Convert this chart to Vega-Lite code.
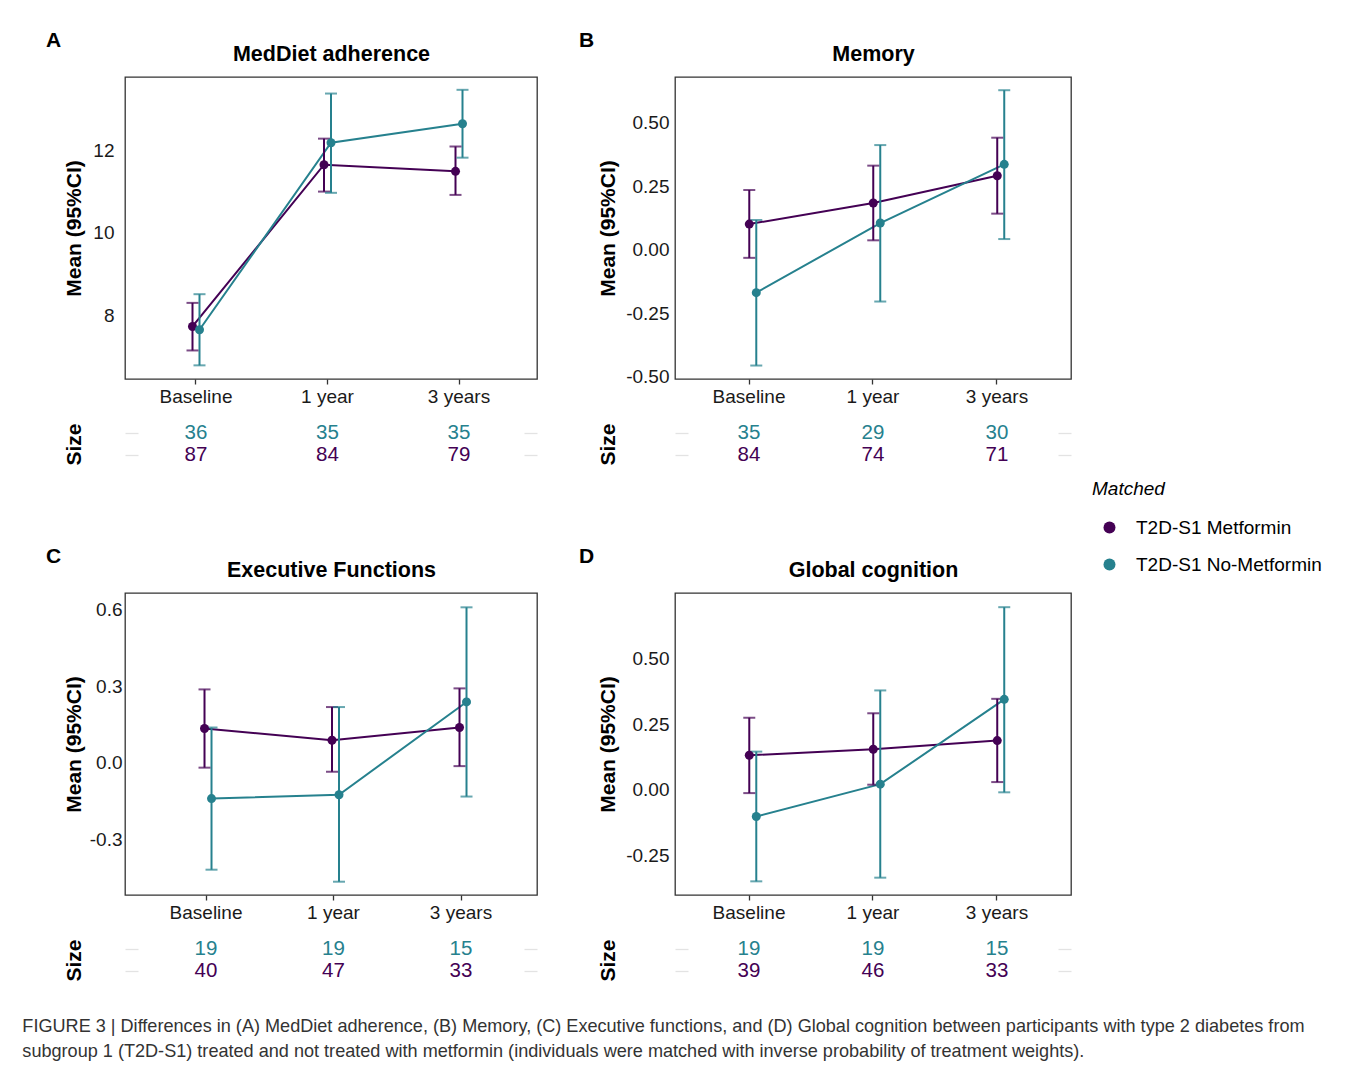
{
  "$schema": "https://vega.github.io/schema/vega-lite/v6.json",
  "background": "white",
  "autosize": {"type": "pad"},
  "padding": {"left": 22, "top": 29, "right": 0, "bottom": 0},
  "datasets": {
    "pts": [
      {"panel": "A", "time": "Baseline", "group": "T2D-S1 Metformin", "mean": 7.74, "lo": 7.16, "hi": 8.31},
      {"panel": "A", "time": "1 year", "group": "T2D-S1 Metformin", "mean": 11.65, "lo": 11.0, "hi": 12.28},
      {"panel": "A", "time": "3 years", "group": "T2D-S1 Metformin", "mean": 11.49, "lo": 10.92, "hi": 12.09},
      {"panel": "A", "time": "Baseline", "group": "T2D-S1 No-Metformin", "mean": 7.66, "lo": 6.8, "hi": 8.52},
      {"panel": "A", "time": "1 year", "group": "T2D-S1 No-Metformin", "mean": 12.18, "lo": 10.97, "hi": 13.37},
      {"panel": "A", "time": "3 years", "group": "T2D-S1 No-Metformin", "mean": 12.64, "lo": 11.82, "hi": 13.46},
      {"panel": "B", "time": "Baseline", "group": "T2D-S1 Metformin", "mean": 0.102, "lo": -0.031, "hi": 0.236},
      {"panel": "B", "time": "1 year", "group": "T2D-S1 Metformin", "mean": 0.185, "lo": 0.038, "hi": 0.332},
      {"panel": "B", "time": "3 years", "group": "T2D-S1 Metformin", "mean": 0.292, "lo": 0.143, "hi": 0.442},
      {"panel": "B", "time": "Baseline", "group": "T2D-S1 No-Metformin", "mean": -0.168, "lo": -0.455, "hi": 0.118},
      {"panel": "B", "time": "1 year", "group": "T2D-S1 No-Metformin", "mean": 0.106, "lo": -0.203, "hi": 0.413},
      {"panel": "B", "time": "3 years", "group": "T2D-S1 No-Metformin", "mean": 0.337, "lo": 0.043, "hi": 0.629},
      {"panel": "C", "time": "Baseline", "group": "T2D-S1 Metformin", "mean": 0.134, "lo": -0.019, "hi": 0.287},
      {"panel": "C", "time": "1 year", "group": "T2D-S1 Metformin", "mean": 0.088, "lo": -0.035, "hi": 0.218},
      {"panel": "C", "time": "3 years", "group": "T2D-S1 Metformin", "mean": 0.138, "lo": -0.013, "hi": 0.291},
      {"panel": "C", "time": "Baseline", "group": "T2D-S1 No-Metformin", "mean": -0.14, "lo": -0.418, "hi": 0.138},
      {"panel": "C", "time": "1 year", "group": "T2D-S1 No-Metformin", "mean": -0.125, "lo": -0.465, "hi": 0.218},
      {"panel": "C", "time": "3 years", "group": "T2D-S1 No-Metformin", "mean": 0.238, "lo": -0.132, "hi": 0.608},
      {"panel": "D", "time": "Baseline", "group": "T2D-S1 Metformin", "mean": 0.131, "lo": -0.013, "hi": 0.274},
      {"panel": "D", "time": "1 year", "group": "T2D-S1 Metformin", "mean": 0.154, "lo": 0.019, "hi": 0.291},
      {"panel": "D", "time": "3 years", "group": "T2D-S1 Metformin", "mean": 0.187, "lo": 0.029, "hi": 0.346},
      {"panel": "D", "time": "Baseline", "group": "T2D-S1 No-Metformin", "mean": -0.102, "lo": -0.349, "hi": 0.145},
      {"panel": "D", "time": "1 year", "group": "T2D-S1 No-Metformin", "mean": 0.021, "lo": -0.335, "hi": 0.378},
      {"panel": "D", "time": "3 years", "group": "T2D-S1 No-Metformin", "mean": 0.344, "lo": -0.01, "hi": 0.695}
    ],
    "sizes": [
      {"panel": "A", "time": "Baseline", "group": "T2D-S1 No-Metformin", "n": 36},
      {"panel": "A", "time": "1 year", "group": "T2D-S1 No-Metformin", "n": 35},
      {"panel": "A", "time": "3 years", "group": "T2D-S1 No-Metformin", "n": 35},
      {"panel": "A", "time": "Baseline", "group": "T2D-S1 Metformin", "n": 87},
      {"panel": "A", "time": "1 year", "group": "T2D-S1 Metformin", "n": 84},
      {"panel": "A", "time": "3 years", "group": "T2D-S1 Metformin", "n": 79},
      {"panel": "B", "time": "Baseline", "group": "T2D-S1 No-Metformin", "n": 35},
      {"panel": "B", "time": "1 year", "group": "T2D-S1 No-Metformin", "n": 29},
      {"panel": "B", "time": "3 years", "group": "T2D-S1 No-Metformin", "n": 30},
      {"panel": "B", "time": "Baseline", "group": "T2D-S1 Metformin", "n": 84},
      {"panel": "B", "time": "1 year", "group": "T2D-S1 Metformin", "n": 74},
      {"panel": "B", "time": "3 years", "group": "T2D-S1 Metformin", "n": 71},
      {"panel": "C", "time": "Baseline", "group": "T2D-S1 No-Metformin", "n": 19},
      {"panel": "C", "time": "1 year", "group": "T2D-S1 No-Metformin", "n": 19},
      {"panel": "C", "time": "3 years", "group": "T2D-S1 No-Metformin", "n": 15},
      {"panel": "C", "time": "Baseline", "group": "T2D-S1 Metformin", "n": 40},
      {"panel": "C", "time": "1 year", "group": "T2D-S1 Metformin", "n": 47},
      {"panel": "C", "time": "3 years", "group": "T2D-S1 Metformin", "n": 33},
      {"panel": "D", "time": "Baseline", "group": "T2D-S1 No-Metformin", "n": 19},
      {"panel": "D", "time": "1 year", "group": "T2D-S1 No-Metformin", "n": 19},
      {"panel": "D", "time": "3 years", "group": "T2D-S1 No-Metformin", "n": 15},
      {"panel": "D", "time": "Baseline", "group": "T2D-S1 Metformin", "n": 39},
      {"panel": "D", "time": "1 year", "group": "T2D-S1 Metformin", "n": 46},
      {"panel": "D", "time": "3 years", "group": "T2D-S1 Metformin", "n": 33}
    ]
  },
  "title": {
    "text": ["FIGURE 3 | Differences in (A) MedDiet adherence, (B) Memory, (C) Executive functions, and (D) Global cognition between participants with type 2 diabetes from", "subgroup 1 (T2D-S1) treated and not treated with metformin (individuals were matched with inverse probability of treatment weights)."],
    "orient": "bottom", "anchor": "start", "frame": "bounds", "dx": -23, "offset": 36,
    "fontSize": 18.1, "fontWeight": "normal", "color": "#333333", "lineHeight": 25
  },
  "resolve": {"scale": {"color": "shared"}, "legend": {"color": "shared"}},
  "spacing": 79,
  "vconcat": [
    {
      "spacing": 40,
      "hconcat": [
        {
          "spacing": 15,
          "vconcat": [
            {
              "data": {"name": "pts"},
              "width": 412, "height": 302,
              "title": {"text": "A", "anchor": "start", "frame": "group", "dx": -79, "dy": 8, "offset": 0, "fontSize": 21, "fontWeight": "bold", "color": "black"},
              "transform": [{"filter": "datum.panel === 'A'"}],
              "resolve": {"axis": {"x": "independent"}},
              "layer": [
                {"mark": {"type": "line", "strokeWidth": 2},
                 "encoding": {
                   "x": {"field": "time", "type": "nominal", "sort": ["Baseline", "1 year", "3 years"], "scale": {"type": "band", "paddingInner": 0, "paddingOuter": 0.0665, "align": 0.3}, "axis": {"orient": "bottom", "title": null, "labelAngle": 0, "labelFontSize": 19, "labelColor": "#1a1a1a", "labelPadding": 3, "tickSize": 5, "tickColor": "#333333", "tickWidth": 1.3, "domain": false, "grid": false}},
                   "xOffset": {"field": "group", "type": "nominal", "scale": {"domain": ["T2D-S1 Metformin", "T2D-S1 No-Metformin"], "range": [58.75, 72.75], "paddingInner": 0, "paddingOuter": 0}},
                   "y": {"field": "mean", "type": "quantitative", "scale": {"domain": [6.47, 13.77], "nice": false, "zero": false}, "axis": {"title": "Mean (95%CI)", "titleFontSize": 21, "titleFontWeight": "bold", "titleColor": "black", "titleX": -51, "titleBaseline": "middle", "values": [8, 10, 12], "labelFontSize": 19, "labelColor": "#1a1a1a", "labelPadding": 11, "ticks": false, "domain": false, "grid": false}},
                   "color": {"field": "group", "type": "nominal", "title": "Matched", "scale": {"domain": ["T2D-S1 Metformin", "T2D-S1 No-Metformin"], "range": ["#440154", "#26818E"]}}
                 }},
                {"mark": {"type": "rule", "strokeWidth": 2},
                 "encoding": {
                   "x": {"field": "time", "type": "nominal", "sort": ["Baseline", "1 year", "3 years"], "axis": null},
                   "xOffset": {"field": "group", "type": "nominal"},
                   "y": {"field": "lo", "type": "quantitative"},
                   "y2": {"field": "hi"},
                   "color": {"field": "group", "type": "nominal", "title": "Matched"}
                 }},
                {"mark": {"type": "tick", "thickness": 2, "size": 12, "orient": "horizontal"},
                 "encoding": {
                   "x": {"field": "time", "type": "nominal", "sort": ["Baseline", "1 year", "3 years"], "axis": null},
                   "xOffset": {"field": "group", "type": "nominal"},
                   "y": {"field": "lo", "type": "quantitative"},
                   "color": {"field": "group", "type": "nominal", "title": "Matched"}
                 }},
                {"mark": {"type": "tick", "thickness": 2, "size": 12, "orient": "horizontal"},
                 "encoding": {
                   "x": {"field": "time", "type": "nominal", "sort": ["Baseline", "1 year", "3 years"], "axis": null},
                   "xOffset": {"field": "group", "type": "nominal"},
                   "y": {"field": "hi", "type": "quantitative"},
                   "color": {"field": "group", "type": "nominal", "title": "Matched"}
                 }},
                {"mark": {"type": "circle", "size": 81, "opacity": 1},
                 "encoding": {
                   "x": {"field": "time", "type": "nominal", "sort": ["Baseline", "1 year", "3 years"], "axis": {"orient": "top", "title": "MedDiet adherence", "titleFontSize": 21.5, "titleFontWeight": "bold", "titleColor": "black", "titleY": -23, "titleBaseline": "middle", "labels": false, "ticks": false, "domain": false, "grid": false}},
                   "xOffset": {"field": "group", "type": "nominal"},
                   "y": {"field": "mean", "type": "quantitative"},
                   "color": {"field": "group", "type": "nominal", "title": "Matched"}
                 }}
              ]
            },
            {
              "data": {"name": "sizes"},
              "width": 412, "height": 44,
              "view": {"stroke": null},
              "transform": [{"filter": "datum.panel === 'A'"}],
              "resolve": {"axis": {"y": "independent"}},
              "layer": [
                {"mark": {"type": "text", "fontSize": 20.5},
                 "encoding": {
                   "x": {"field": "time", "type": "nominal", "sort": ["Baseline", "1 year", "3 years"], "scale": {"type": "band", "paddingInner": 0, "paddingOuter": 0.0665, "align": 0.3}, "axis": null},
                   "y": {"field": "group", "type": "nominal", "scale": {"domain": ["T2D-S1 No-Metformin", "T2D-S1 Metformin"]}, "axis": {"orient": "left", "title": "Size", "titleFontSize": 21, "titleFontWeight": "bold", "titleColor": "black", "titleX": -51, "titleBaseline": "middle", "labels": false, "domain": false, "ticks": true, "tickSize": -13, "tickColor": "#e3e3e3", "tickWidth": 1.3, "grid": false}},
                   "text": {"field": "n", "type": "quantitative"},
                   "color": {"field": "group", "type": "nominal", "title": "Matched"}
                 }},
                {"mark": {"type": "text", "fontSize": 20.5, "opacity": 0},
                 "encoding": {
                   "x": {"field": "time", "type": "nominal", "sort": ["Baseline", "1 year", "3 years"], "axis": null},
                   "y": {"field": "group", "type": "nominal", "axis": {"orient": "right", "title": null, "labels": false, "domain": false, "ticks": true, "tickSize": -13, "tickColor": "#e3e3e3", "tickWidth": 1.3, "grid": false}},
                   "text": {"field": "n", "type": "quantitative"}
                 }}
              ]
            }
          ]
        },
        {
          "spacing": 15,
          "vconcat": [
            {
              "data": {"name": "pts"},
              "width": 396, "height": 302,
              "title": {"text": "B", "anchor": "start", "frame": "group", "dx": -96, "dy": 8, "offset": 0, "fontSize": 21, "fontWeight": "bold", "color": "black"},
              "transform": [{"filter": "datum.panel === 'B'"}],
              "resolve": {"axis": {"x": "independent"}},
              "layer": [
                {"mark": {"type": "line", "strokeWidth": 2},
                 "encoding": {
                   "x": {"field": "time", "type": "nominal", "sort": ["Baseline", "1 year", "3 years"], "scale": {"type": "band", "paddingInner": 0, "paddingOuter": 0.097}, "axis": {"orient": "bottom", "title": null, "labelAngle": 0, "labelFontSize": 19, "labelColor": "#1a1a1a", "labelPadding": 3, "tickSize": 5, "tickColor": "#333333", "tickWidth": 1.3, "domain": false, "grid": false}},
                   "xOffset": {"field": "group", "type": "nominal", "scale": {"domain": ["T2D-S1 Metformin", "T2D-S1 No-Metformin"], "range": [55, 69], "paddingInner": 0, "paddingOuter": 0}},
                   "y": {"field": "mean", "type": "quantitative", "scale": {"domain": [-0.508, 0.681], "nice": false, "zero": false}, "axis": {"title": "Mean (95%CI)", "titleFontSize": 21, "titleFontWeight": "bold", "titleColor": "black", "titleX": -67, "titleBaseline": "middle", "values": [-0.5, -0.25, 0, 0.25, 0.5], "format": ".2f", "labelExpr": "replace(datum.label, '\u2212', '-')", "labelFontSize": 19, "labelColor": "#1a1a1a", "labelPadding": 6, "ticks": false, "domain": false, "grid": false}},
                   "color": {"field": "group", "type": "nominal", "title": "Matched", "scale": {"domain": ["T2D-S1 Metformin", "T2D-S1 No-Metformin"], "range": ["#440154", "#26818E"]}}
                 }},
                {"mark": {"type": "rule", "strokeWidth": 2},
                 "encoding": {
                   "x": {"field": "time", "type": "nominal", "sort": ["Baseline", "1 year", "3 years"], "axis": null},
                   "xOffset": {"field": "group", "type": "nominal"},
                   "y": {"field": "lo", "type": "quantitative"},
                   "y2": {"field": "hi"},
                   "color": {"field": "group", "type": "nominal", "title": "Matched"}
                 }},
                {"mark": {"type": "tick", "thickness": 2, "size": 12, "orient": "horizontal"},
                 "encoding": {
                   "x": {"field": "time", "type": "nominal", "sort": ["Baseline", "1 year", "3 years"], "axis": null},
                   "xOffset": {"field": "group", "type": "nominal"},
                   "y": {"field": "lo", "type": "quantitative"},
                   "color": {"field": "group", "type": "nominal", "title": "Matched"}
                 }},
                {"mark": {"type": "tick", "thickness": 2, "size": 12, "orient": "horizontal"},
                 "encoding": {
                   "x": {"field": "time", "type": "nominal", "sort": ["Baseline", "1 year", "3 years"], "axis": null},
                   "xOffset": {"field": "group", "type": "nominal"},
                   "y": {"field": "hi", "type": "quantitative"},
                   "color": {"field": "group", "type": "nominal", "title": "Matched"}
                 }},
                {"mark": {"type": "circle", "size": 81, "opacity": 1},
                 "encoding": {
                   "x": {"field": "time", "type": "nominal", "sort": ["Baseline", "1 year", "3 years"], "axis": {"orient": "top", "title": "Memory", "titleFontSize": 21.5, "titleFontWeight": "bold", "titleColor": "black", "titleY": -23, "titleBaseline": "middle", "labels": false, "ticks": false, "domain": false, "grid": false}},
                   "xOffset": {"field": "group", "type": "nominal"},
                   "y": {"field": "mean", "type": "quantitative"},
                   "color": {"field": "group", "type": "nominal", "title": "Matched"}
                 }}
              ]
            },
            {
              "data": {"name": "sizes"},
              "width": 396, "height": 44,
              "view": {"stroke": null},
              "transform": [{"filter": "datum.panel === 'B'"}],
              "resolve": {"axis": {"y": "independent"}},
              "layer": [
                {"mark": {"type": "text", "fontSize": 20.5},
                 "encoding": {
                   "x": {"field": "time", "type": "nominal", "sort": ["Baseline", "1 year", "3 years"], "scale": {"type": "band", "paddingInner": 0, "paddingOuter": 0.097}, "axis": null},
                   "y": {"field": "group", "type": "nominal", "scale": {"domain": ["T2D-S1 No-Metformin", "T2D-S1 Metformin"]}, "axis": {"orient": "left", "title": "Size", "titleFontSize": 21, "titleFontWeight": "bold", "titleColor": "black", "titleX": -67, "titleBaseline": "middle", "labels": false, "domain": false, "ticks": true, "tickSize": -13, "tickColor": "#e3e3e3", "tickWidth": 1.3, "grid": false}},
                   "text": {"field": "n", "type": "quantitative"},
                   "color": {"field": "group", "type": "nominal", "title": "Matched"}
                 }},
                {"mark": {"type": "text", "fontSize": 20.5, "opacity": 0},
                 "encoding": {
                   "x": {"field": "time", "type": "nominal", "sort": ["Baseline", "1 year", "3 years"], "axis": null},
                   "y": {"field": "group", "type": "nominal", "axis": {"orient": "right", "title": null, "labels": false, "domain": false, "ticks": true, "tickSize": -13, "tickColor": "#e3e3e3", "tickWidth": 1.3, "grid": false}},
                   "text": {"field": "n", "type": "quantitative"}
                 }}
              ]
            }
          ]
        }
      ]
    },
    {
      "spacing": 40,
      "hconcat": [
        {
          "spacing": 15,
          "vconcat": [
            {
              "data": {"name": "pts"},
              "width": 412, "height": 302,
              "title": {"text": "C", "anchor": "start", "frame": "group", "dx": -79, "dy": 8, "offset": 0, "fontSize": 21, "fontWeight": "bold", "color": "black"},
              "transform": [{"filter": "datum.panel === 'C'"}],
              "resolve": {"axis": {"x": "independent"}},
              "layer": [
                {"mark": {"type": "line", "strokeWidth": 2},
                 "encoding": {
                   "x": {"field": "time", "type": "nominal", "sort": ["Baseline", "1 year", "3 years"], "scale": {"type": "band", "paddingInner": 0, "paddingOuter": 0.1157, "align": 0.585}, "axis": {"orient": "bottom", "title": null, "labelAngle": 0, "labelFontSize": 19, "labelColor": "#1a1a1a", "labelPadding": 3, "tickSize": 5, "tickColor": "#333333", "tickWidth": 1.3, "domain": false, "grid": false}},
                   "xOffset": {"field": "group", "type": "nominal", "scale": {"domain": ["T2D-S1 Metformin", "T2D-S1 No-Metformin"], "range": [56.75, 70.75], "paddingInner": 0, "paddingOuter": 0}},
                   "y": {"field": "mean", "type": "quantitative", "scale": {"domain": [-0.517, 0.664], "nice": false, "zero": false}, "axis": {"title": "Mean (95%CI)", "titleFontSize": 21, "titleFontWeight": "bold", "titleColor": "black", "titleX": -51, "titleBaseline": "middle", "values": [-0.3, 0, 0.3, 0.6], "format": ".1f", "labelExpr": "replace(datum.label, '\u2212', '-')", "labelFontSize": 19, "labelColor": "#1a1a1a", "labelPadding": 3, "ticks": false, "domain": false, "grid": false}},
                   "color": {"field": "group", "type": "nominal", "title": "Matched", "scale": {"domain": ["T2D-S1 Metformin", "T2D-S1 No-Metformin"], "range": ["#440154", "#26818E"]}}
                 }},
                {"mark": {"type": "rule", "strokeWidth": 2},
                 "encoding": {
                   "x": {"field": "time", "type": "nominal", "sort": ["Baseline", "1 year", "3 years"], "axis": null},
                   "xOffset": {"field": "group", "type": "nominal"},
                   "y": {"field": "lo", "type": "quantitative"},
                   "y2": {"field": "hi"},
                   "color": {"field": "group", "type": "nominal", "title": "Matched"}
                 }},
                {"mark": {"type": "tick", "thickness": 2, "size": 12, "orient": "horizontal"},
                 "encoding": {
                   "x": {"field": "time", "type": "nominal", "sort": ["Baseline", "1 year", "3 years"], "axis": null},
                   "xOffset": {"field": "group", "type": "nominal"},
                   "y": {"field": "lo", "type": "quantitative"},
                   "color": {"field": "group", "type": "nominal", "title": "Matched"}
                 }},
                {"mark": {"type": "tick", "thickness": 2, "size": 12, "orient": "horizontal"},
                 "encoding": {
                   "x": {"field": "time", "type": "nominal", "sort": ["Baseline", "1 year", "3 years"], "axis": null},
                   "xOffset": {"field": "group", "type": "nominal"},
                   "y": {"field": "hi", "type": "quantitative"},
                   "color": {"field": "group", "type": "nominal", "title": "Matched"}
                 }},
                {"mark": {"type": "circle", "size": 81, "opacity": 1},
                 "encoding": {
                   "x": {"field": "time", "type": "nominal", "sort": ["Baseline", "1 year", "3 years"], "axis": {"orient": "top", "title": "Executive Functions", "titleFontSize": 21.5, "titleFontWeight": "bold", "titleColor": "black", "titleY": -23, "titleBaseline": "middle", "labels": false, "ticks": false, "domain": false, "grid": false}},
                   "xOffset": {"field": "group", "type": "nominal"},
                   "y": {"field": "mean", "type": "quantitative"},
                   "color": {"field": "group", "type": "nominal", "title": "Matched"}
                 }}
              ]
            },
            {
              "data": {"name": "sizes"},
              "width": 412, "height": 44,
              "view": {"stroke": null},
              "transform": [{"filter": "datum.panel === 'C'"}],
              "resolve": {"axis": {"y": "independent"}},
              "layer": [
                {"mark": {"type": "text", "fontSize": 20.5},
                 "encoding": {
                   "x": {"field": "time", "type": "nominal", "sort": ["Baseline", "1 year", "3 years"], "scale": {"type": "band", "paddingInner": 0, "paddingOuter": 0.1157, "align": 0.585}, "axis": null},
                   "y": {"field": "group", "type": "nominal", "scale": {"domain": ["T2D-S1 No-Metformin", "T2D-S1 Metformin"]}, "axis": {"orient": "left", "title": "Size", "titleFontSize": 21, "titleFontWeight": "bold", "titleColor": "black", "titleX": -51, "titleBaseline": "middle", "labels": false, "domain": false, "ticks": true, "tickSize": -13, "tickColor": "#e3e3e3", "tickWidth": 1.3, "grid": false}},
                   "text": {"field": "n", "type": "quantitative"},
                   "color": {"field": "group", "type": "nominal", "title": "Matched"}
                 }},
                {"mark": {"type": "text", "fontSize": 20.5, "opacity": 0},
                 "encoding": {
                   "x": {"field": "time", "type": "nominal", "sort": ["Baseline", "1 year", "3 years"], "axis": null},
                   "y": {"field": "group", "type": "nominal", "axis": {"orient": "right", "title": null, "labels": false, "domain": false, "ticks": true, "tickSize": -13, "tickColor": "#e3e3e3", "tickWidth": 1.3, "grid": false}},
                   "text": {"field": "n", "type": "quantitative"}
                 }}
              ]
            }
          ]
        },
        {
          "spacing": 15,
          "vconcat": [
            {
              "data": {"name": "pts"},
              "width": 396, "height": 302,
              "title": {"text": "D", "anchor": "start", "frame": "group", "dx": -96, "dy": 8, "offset": 0, "fontSize": 21, "fontWeight": "bold", "color": "black"},
              "transform": [{"filter": "datum.panel === 'D'"}],
              "resolve": {"axis": {"x": "independent"}},
              "layer": [
                {"mark": {"type": "line", "strokeWidth": 2},
                 "encoding": {
                   "x": {"field": "time", "type": "nominal", "sort": ["Baseline", "1 year", "3 years"], "scale": {"type": "band", "paddingInner": 0, "paddingOuter": 0.097}, "axis": {"orient": "bottom", "title": null, "labelAngle": 0, "labelFontSize": 19, "labelColor": "#1a1a1a", "labelPadding": 3, "tickSize": 5, "tickColor": "#333333", "tickWidth": 1.3, "domain": false, "grid": false}},
                   "xOffset": {"field": "group", "type": "nominal", "scale": {"domain": ["T2D-S1 Metformin", "T2D-S1 No-Metformin"], "range": [55, 69], "paddingInner": 0, "paddingOuter": 0}},
                   "y": {"field": "mean", "type": "quantitative", "scale": {"domain": [-0.401, 0.749], "nice": false, "zero": false}, "axis": {"title": "Mean (95%CI)", "titleFontSize": 21, "titleFontWeight": "bold", "titleColor": "black", "titleX": -67, "titleBaseline": "middle", "values": [-0.25, 0, 0.25, 0.5], "format": ".2f", "labelExpr": "replace(datum.label, '\u2212', '-')", "labelFontSize": 19, "labelColor": "#1a1a1a", "labelPadding": 6, "ticks": false, "domain": false, "grid": false}},
                   "color": {"field": "group", "type": "nominal", "title": "Matched", "scale": {"domain": ["T2D-S1 Metformin", "T2D-S1 No-Metformin"], "range": ["#440154", "#26818E"]}}
                 }},
                {"mark": {"type": "rule", "strokeWidth": 2},
                 "encoding": {
                   "x": {"field": "time", "type": "nominal", "sort": ["Baseline", "1 year", "3 years"], "axis": null},
                   "xOffset": {"field": "group", "type": "nominal"},
                   "y": {"field": "lo", "type": "quantitative"},
                   "y2": {"field": "hi"},
                   "color": {"field": "group", "type": "nominal", "title": "Matched"}
                 }},
                {"mark": {"type": "tick", "thickness": 2, "size": 12, "orient": "horizontal"},
                 "encoding": {
                   "x": {"field": "time", "type": "nominal", "sort": ["Baseline", "1 year", "3 years"], "axis": null},
                   "xOffset": {"field": "group", "type": "nominal"},
                   "y": {"field": "lo", "type": "quantitative"},
                   "color": {"field": "group", "type": "nominal", "title": "Matched"}
                 }},
                {"mark": {"type": "tick", "thickness": 2, "size": 12, "orient": "horizontal"},
                 "encoding": {
                   "x": {"field": "time", "type": "nominal", "sort": ["Baseline", "1 year", "3 years"], "axis": null},
                   "xOffset": {"field": "group", "type": "nominal"},
                   "y": {"field": "hi", "type": "quantitative"},
                   "color": {"field": "group", "type": "nominal", "title": "Matched"}
                 }},
                {"mark": {"type": "circle", "size": 81, "opacity": 1},
                 "encoding": {
                   "x": {"field": "time", "type": "nominal", "sort": ["Baseline", "1 year", "3 years"], "axis": {"orient": "top", "title": "Global cognition", "titleFontSize": 21.5, "titleFontWeight": "bold", "titleColor": "black", "titleY": -23, "titleBaseline": "middle", "labels": false, "ticks": false, "domain": false, "grid": false}},
                   "xOffset": {"field": "group", "type": "nominal"},
                   "y": {"field": "mean", "type": "quantitative"},
                   "color": {"field": "group", "type": "nominal", "title": "Matched"}
                 }}
              ]
            },
            {
              "data": {"name": "sizes"},
              "width": 396, "height": 44,
              "view": {"stroke": null},
              "transform": [{"filter": "datum.panel === 'D'"}],
              "resolve": {"axis": {"y": "independent"}},
              "layer": [
                {"mark": {"type": "text", "fontSize": 20.5},
                 "encoding": {
                   "x": {"field": "time", "type": "nominal", "sort": ["Baseline", "1 year", "3 years"], "scale": {"type": "band", "paddingInner": 0, "paddingOuter": 0.097}, "axis": null},
                   "y": {"field": "group", "type": "nominal", "scale": {"domain": ["T2D-S1 No-Metformin", "T2D-S1 Metformin"]}, "axis": {"orient": "left", "title": "Size", "titleFontSize": 21, "titleFontWeight": "bold", "titleColor": "black", "titleX": -67, "titleBaseline": "middle", "labels": false, "domain": false, "ticks": true, "tickSize": -13, "tickColor": "#e3e3e3", "tickWidth": 1.3, "grid": false}},
                   "text": {"field": "n", "type": "quantitative"},
                   "color": {"field": "group", "type": "nominal", "title": "Matched"}
                 }},
                {"mark": {"type": "text", "fontSize": 20.5, "opacity": 0},
                 "encoding": {
                   "x": {"field": "time", "type": "nominal", "sort": ["Baseline", "1 year", "3 years"], "axis": null},
                   "y": {"field": "group", "type": "nominal", "axis": {"orient": "right", "title": null, "labels": false, "domain": false, "ticks": true, "tickSize": -13, "tickColor": "#e3e3e3", "tickWidth": 1.3, "grid": false}},
                   "text": {"field": "n", "type": "quantitative"}
                 }}
              ]
            }
          ]
        }
      ]
    }
  ],
  "config": {
    "font": "Liberation Sans",
    "view": {"stroke": "#333333", "strokeWidth": 1.3},
    "axis": {"labelFont": "Liberation Sans", "titleFont": "Liberation Sans"},
    "legend": {"orient": "none", "legendX": 967, "legendY": 403, "titleFont": "Liberation Sans", "titleFontStyle": "italic", "titleFontWeight": "normal", "titleFontSize": 19, "titleColor": "black", "titlePadding": 19, "labelFont": "Liberation Sans", "labelFontSize": 19, "labelColor": "black", "labelLimit": 0, "labelOffset": 17, "symbolType": "circle", "symbolSize": 144, "symbolStrokeWidth": 0, "symbolOpacity": 1, "symbolOffset": 8, "rowPadding": 17},
    "title": {"font": "Liberation Sans"}
  }
}
